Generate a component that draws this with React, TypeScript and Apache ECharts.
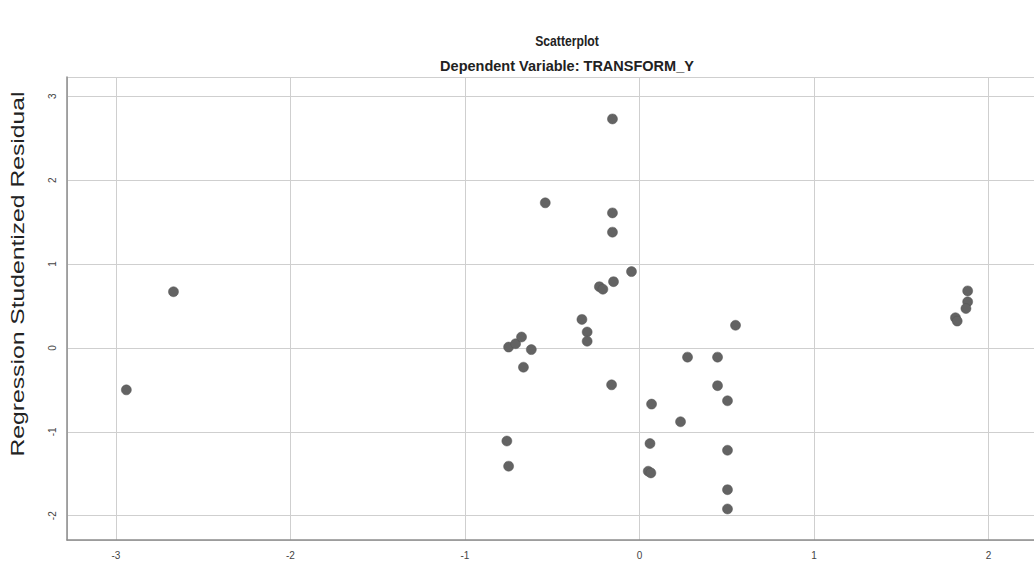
import React, { useEffect, useRef } from "react";
import * as echarts from "echarts";

// Regression Standardized Predicted Value (x) and Studentized Residual (y)
const predicted = [
  -2.94, -2.67, -0.54, -0.155, -0.155, -0.155, -0.046, -0.149, -0.23, -0.21,
  -0.33, -0.3, -0.3, -0.75, -0.71, -0.676, -0.62, -0.665, -0.76, -0.75,
  0.55, 0.275, 0.447, -0.16, 0.447, 0.504, 0.069, 0.235, 0.06, 0.504,
  0.05, 0.065, 0.504, 0.504, 1.88, 1.88, 1.87, 1.81, 1.82,
];
const residual = [
  -0.5, 0.67, 1.73, 2.73, 1.61, 1.38, 0.91, 0.79, 0.73, 0.7,
  0.34, 0.19, 0.08, 0.01, 0.05, 0.13, -0.02, -0.23, -1.11, -1.41,
  0.27, -0.11, -0.11, -0.44, -0.45, -0.63, -0.67, -0.88, -1.14, -1.22,
  -1.47, -1.49, -1.69, -1.92, 0.68, 0.55, 0.47, 0.36, 0.32,
];
const xTickLabels = [-3, -2, -1, 0, 1, 2];
const yTickLabels = [-2, -1, 0, 1, 2, 3];

const titleText = "Scatterplot";
const subtitleText = "Dependent Variable: TRANSFORM_Y";
const yAxisTitle = "Regression Studentized Residual";

const FONT = "'Liberation Sans', Arial, sans-serif";

export default function App() {
  const ref = useRef<HTMLDivElement>(null);
  useEffect(() => {
    const chart = echarts.init(ref.current!, null, { renderer: "svg" });
    const points = predicted.map((x, i) => [x, residual[i]]);
    const fmt = (list: number[]) => (v: number) =>
      list.some((t) => Math.abs(t - v) < 1e-9) ? String(Math.round(v)) : "";
    chart.setOption({
      animation: false,
      backgroundColor: "#ffffff",
      grid: { left: 67, right: 0, top: 77, bottom: 23, containLabel: false },
      xAxis: {
        type: "value",
        min: -3.28,
        max: 2.26,
        splitNumber: 5,
        axisLine: { show: true, onZero: false, lineStyle: { color: "#8c8c8c", width: 1.5 } },
        axisTick: { show: false },
        axisLabel: {
          formatter: fmt(xTickLabels),
          color: "#444",
          fontSize: 10,
          fontFamily: FONT,
          margin: 10,
          showMinLabel: false,
          showMaxLabel: false,
        },
        splitLine: { show: true, lineStyle: { color: "#cfcfcf", width: 1 } },
      },
      yAxis: {
        type: "value",
        min: -2.29,
        max: 3.23,
        splitNumber: 5,
        axisLine: { show: true, onZero: false, lineStyle: { color: "#8c8c8c", width: 1.5 } },
        axisTick: { show: false },
        axisLabel: {
          formatter: fmt(yTickLabels),
          color: "#444",
          fontSize: 10,
          fontFamily: FONT,
          rotate: 90,
          margin: 10,
          showMinLabel: false,
          showMaxLabel: false,
        },
        splitLine: { show: true, lineStyle: { color: "#cfcfcf", width: 1 } },
      },
      graphic: [
        {
          type: "text",
          x: 567,
          y: 41,
          scaleX: 0.84,
          style: {
            text: titleText,
            fontSize: 14.5,
            fontWeight: "bold",
            fontFamily: FONT,
            fill: "#222",
            align: "center",
            verticalAlign: "middle",
          },
        },
        {
          type: "text",
          x: 567,
          y: 66,
          style: {
            text: subtitleText,
            fontSize: 14.5,
            fontWeight: "bold",
            fontFamily: FONT,
            fill: "#222",
            align: "center",
            verticalAlign: "middle",
          },
        },
        {
          type: "text",
          x: 18,
          y: 274,
          rotation: Math.PI / 2,
          scaleX: 1.3,
          style: {
            text: yAxisTitle,
            fontSize: 19,
            fontFamily: FONT,
            fill: "#222",
            align: "center",
            verticalAlign: "middle",
          },
        },
      ],
      series: [
        {
          type: "scatter",
          data: points,
          symbol: "circle",
          symbolSize: 10,
          itemStyle: { color: "#636363", borderColor: "#555", borderWidth: 0.5, opacity: 1 },
        },
      ],
    });
    return () => chart.dispose();
  }, []);
  return (
    <div
      ref={ref}
      style={{ position: "absolute", left: 0, top: 0, width: 1034, height: 563 }}
    />
  );
}
